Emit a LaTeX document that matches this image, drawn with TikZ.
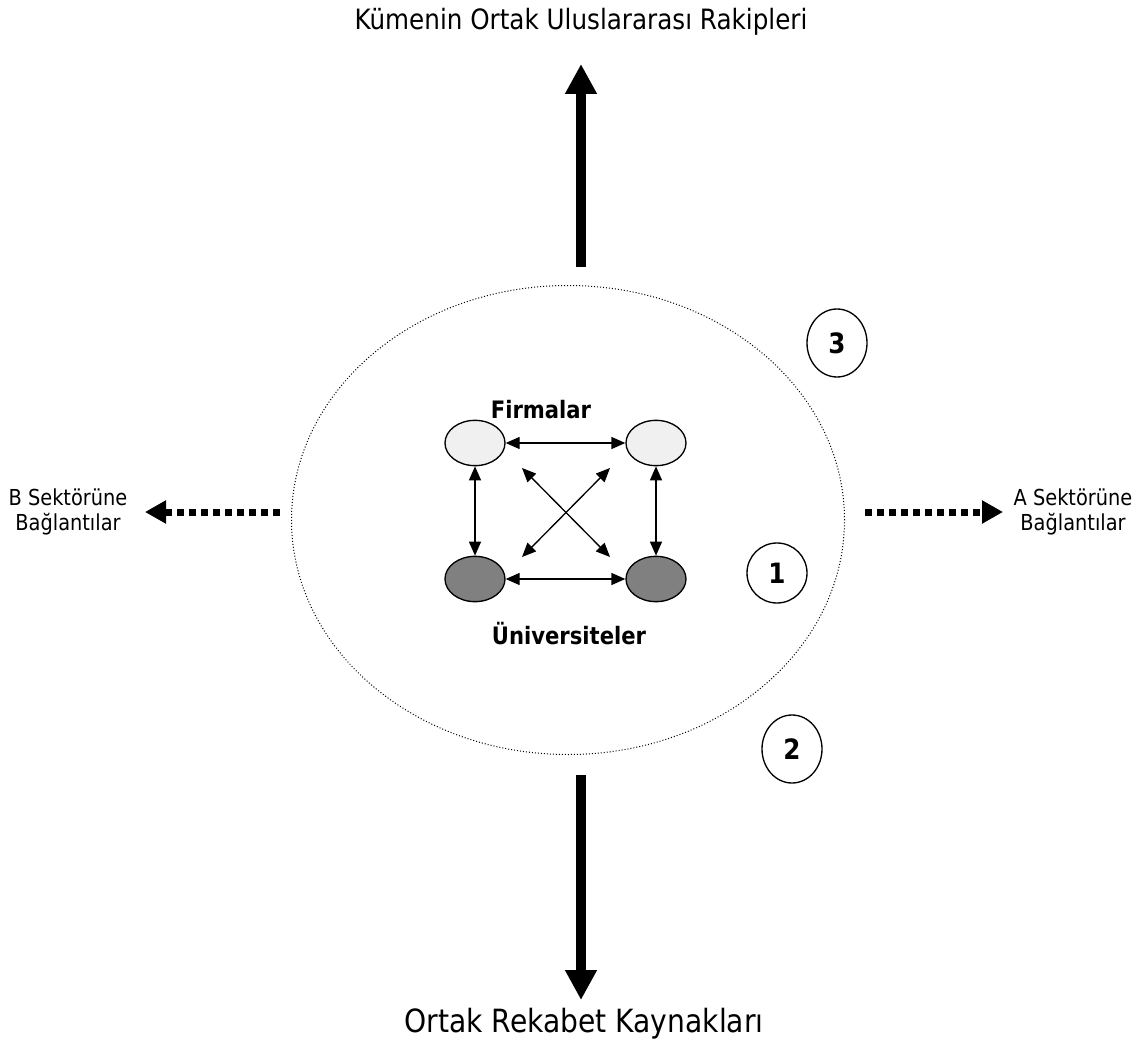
\documentclass[tikz,border=0pt]{standalone}
\usepackage{fontspec}
\setmainfont{DejaVu Sans}[FakeStretch=0.88]
\usetikzlibrary{arrows.meta, shapes.geometric}

\begin{document}
\begin{tikzpicture}[
    x = 0.75pt,
    y = -0.75pt,
    actor/.style = {ellipse, draw, line width=1pt, inner sep=0pt,
      minimum width=45pt, minimum height=34pt},
    firm/.style = {actor, fill=gray!12},
    univ/.style = {actor, fill=gray},
    link/.style = {{Triangle[length=10.5pt, width=9pt]}-{Triangle[length=10.5pt, width=9pt]}, line width=1pt},
    bigarrow/.style = {-{Triangle[length=22.5pt, width=22.5pt]}, line width=7.5pt},
    dotarrow/.style = {-{Triangle[length=15.75pt, width=16.5pt]}, line width=5.25pt,
      dash pattern=on 5.25pt off 3.75pt},
    level/.style = {ellipse, draw, line width=1pt, inner sep=0pt,
      font=\fontsize{21}{24}\selectfont\bfseries},
    ]
    \useasboundingbox (0,0) rectangle (1146,1045);
    % cluster
    \node[ellipse, draw, line width=0.75pt, dash pattern=on 0.75pt off 1.5pt,
      minimum width=414.75pt, minimum height=351.75pt] (cluster) at (568,520) {};
    \node[font=\fontsize{18}{22}\selectfont\bfseries] (firms) at (541,410) {Firmalar};
    \node[font=\fontsize{18}{22}\selectfont\bfseries] (univs) at (569,634) {Üniversiteler};
    % small ellipses
    \node[firm] (tl) at (475,443) {};
    \node[firm] (tr) at (656,443) {};
    \node[univ] (bl) at (475,579) {};
    \node[univ] (br) at (656,579) {};
    \draw[link] (tl) -- (tr);
    \draw[link] (bl) -- (br);
    \draw[link] (tl) -- (bl);
    \draw[link] (tr) -- (br);
    % diag lines
    \coordinate (d1) at (522,468);
    \coordinate (d2) at (610,557);
    \coordinate (d3) at (522,557);
    \coordinate (d4) at (610,468);
    \draw[link] (d1) -- (d2);
    \draw[link] (d3) -- (d4);
    % levels
    \node[level, minimum width=45pt, minimum height=45pt] (one) at (777,573) {1};
    \node[level, minimum width=45pt, minimum height=51pt] (two) at (792,749) {2};
    \node[level, minimum width=45pt, minimum height=51pt] (three) at (837,343) {3};
    % big arrows
    \node[font=\fontsize{21}{24}\selectfont] (rivals) at (581,22) {Kümenin Ortak Uluslararası Rakipleri};
    \node[font=\fontsize{24}{28}\selectfont] (sources) at (584,1024) {Ortak Rekabet Kaynakları};
    \coordinate (upfoot) at (581,267);
    \coordinate (uptip) at (581,64);
    \coordinate (downfoot) at (581,775);
    \coordinate (downtip) at (581,1000);
    \draw[bigarrow] (upfoot) -- (uptip);
    \draw[bigarrow] (downfoot) -- (downtip);
    % side arrows
    \node[align=center, font=\fontsize{16.5}{19}\selectfont] (sectorB) at (68,512) {B Sektörüne\\Bağlantılar};
    \node[align=center, font=\fontsize{16.5}{19}\selectfont] (sectorA) at (1073,512) {A Sektörüne\\Bağlantılar};
    \coordinate (leftfoot) at (280,512);
    \coordinate (lefttip) at (145,512);
    \coordinate (rightfoot) at (865,512);
    \coordinate (righttip) at (1003,512);
    \draw[dotarrow] (leftfoot) -- (lefttip);
    \draw[dotarrow] (rightfoot) -- (righttip);
  \end{tikzpicture}
\end{document}
